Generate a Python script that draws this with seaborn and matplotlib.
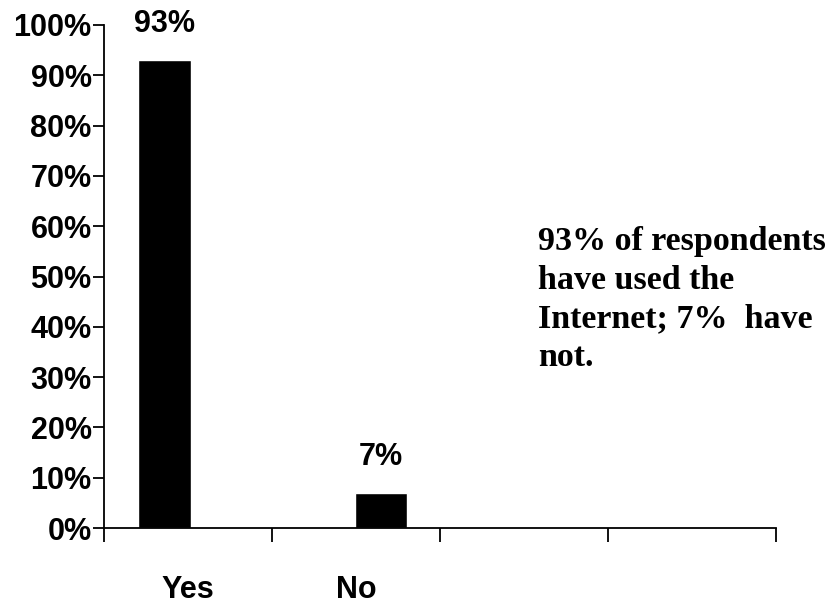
import matplotlib
matplotlib.use("Agg")
import matplotlib.pyplot as plt
import seaborn as sns
import pandas as pd

# Survey answers: have respondents used the Internet?
categories = ["Yes", "No"]
percent_used = [93, 7]
bar_labels = ["93%", "7%"]
y_ticks = [0, 10, 20, 30, 40, 50, 60, 70, 80, 90, 100]
y_tick_labels = [f"{t}%" for t in y_ticks]
note = "93% of respondents\nhave used the\nInternet; 7%  have\nnot."

sns.set_theme(style="white")
plt.rcParams["font.family"] = ["Liberation Sans", "DejaVu Sans"]
plt.rcParams["text.color"] = "black"
plt.rcParams["xtick.color"] = "black"
plt.rcParams["ytick.color"] = "black"

fig = plt.figure(figsize=(8.32, 6.05), dpi=100)
ax = fig.add_axes([104 / 832, 77 / 605, 672 / 832, 503 / 605])

# four category slots on the axis; the bars sit slightly off-centre in theirs
n_slots = 4
bar_shift = [-0.14, 0.15]
positions = [i + s for i, s in enumerate(bar_shift)]
df = pd.DataFrame({"pos": positions, "value": percent_used})
spacing = positions[1] - positions[0]
sns.barplot(data=df, x="pos", y="value", native_scale=True, color="black",
            saturation=1, width=0.31 / spacing, ax=ax, errorbar=None)

ax.bar_label(ax.containers[0], labels=bar_labels, padding=15,
             fontsize=22, fontweight="bold", color="black", clip_on=False)

ax.set_xlim(-0.5, n_slots - 0.5)
ax.set_ylim(0, 100)
ax.set_yticks(y_ticks)
ax.set_yticklabels(y_tick_labels, fontsize=22, fontweight="bold", color="black")
ax.set_xticks(range(len(categories)))
ax.set_xticklabels(categories, fontsize=22, fontweight="bold", color="black")
ax.set_xticks([i - 0.5 for i in range(n_slots + 1)], minor=True)
ax.tick_params(axis="x", which="major", length=0, pad=34)
ax.tick_params(axis="x", which="minor", direction="out", length=10, width=1.3,
               color="black", bottom=True)
ax.tick_params(axis="y", direction="out", length=8, width=1.3, color="black",
               left=True, pad=1)
ax.set_xlabel("")
ax.set_ylabel("")

for side in ("top", "right"):
    ax.spines[side].set_visible(False)
for side in ("left", "bottom"):
    ax.spines[side].set_color("black")
    ax.spines[side].set_linewidth(1.3)

fig.text(538 / 832, 1 - 226 / 605, note, ha="left", va="top", color="black",
         fontsize=24.5, fontweight="bold", linespacing=1.32,
         family=["Liberation Serif", "DejaVu Serif"])

fig.savefig("out.png", dpi=100, facecolor="white")
